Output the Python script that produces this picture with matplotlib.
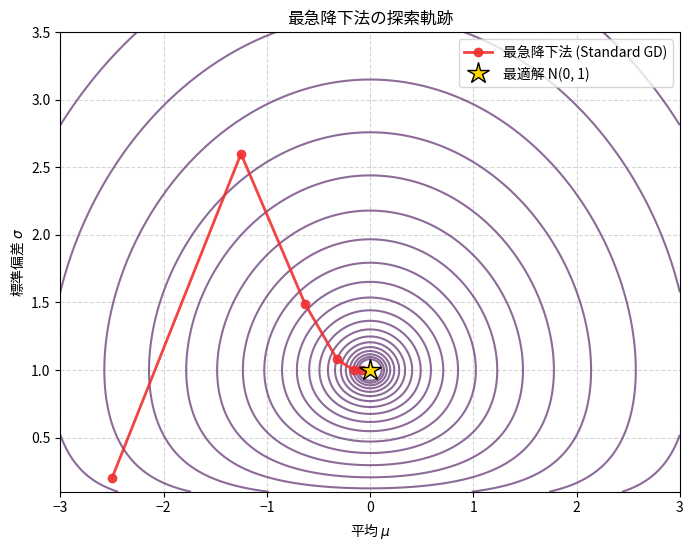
import numpy as np
import matplotlib
matplotlib.use('Agg')
import matplotlib.pyplot as plt

plt.rcParams['font.family'] = ['Noto Sans CJK JP', 'DejaVu Sans']

# 探索軌跡 (読み取り値)
path_mu = [-2.5, -1.25, -0.63, -0.32, -0.16, -0.08, 0.0]
path_sigma = [0.2, 2.6, 1.49, 1.08, 1.0, 1.0, 1.0]
opt_mu, opt_sigma = 0.0, 1.0

# KL(N(mu, sigma) || N(0, 1)) の等高線
mu = np.linspace(-3, 3, 400)
sg = np.linspace(0.1, 3.5, 400)
M, S = np.meshgrid(mu, sg)
KL = -np.log(S) + (S**2 + M**2) / 2 - 0.5

fig, ax = plt.subplots(figsize=(6.93, 5.44), dpi=100)
ax.contour(M, S, KL, levels=np.logspace(-2.2, 1, 21), colors='#5b2d6e', alpha=0.7, linewidths=1.5)
ax.plot(path_mu, path_sigma, 'o-', color='#f03030', lw=2, ms=6, alpha=0.9,
        label='最急降下法 (Standard GD)')
ax.plot(opt_mu, opt_sigma, '*', color='gold', ms=16, markeredgecolor='black',
        label='最適解 N(0, 1)')
ax.set_xlim(-3, 3)
ax.set_ylim(0.1, 3.5)
ax.set_xlabel('平均 $\\mu$')
ax.set_ylabel('標準偏差 $\\sigma$')
ax.set_title('最急降下法の探索軌跡')
ax.grid(True, linestyle='--', alpha=0.5)
ax.legend(loc='upper right')
fig.subplots_adjust(left=0.087, right=0.981, top=0.941, bottom=0.096)
fig.savefig('out.png')
